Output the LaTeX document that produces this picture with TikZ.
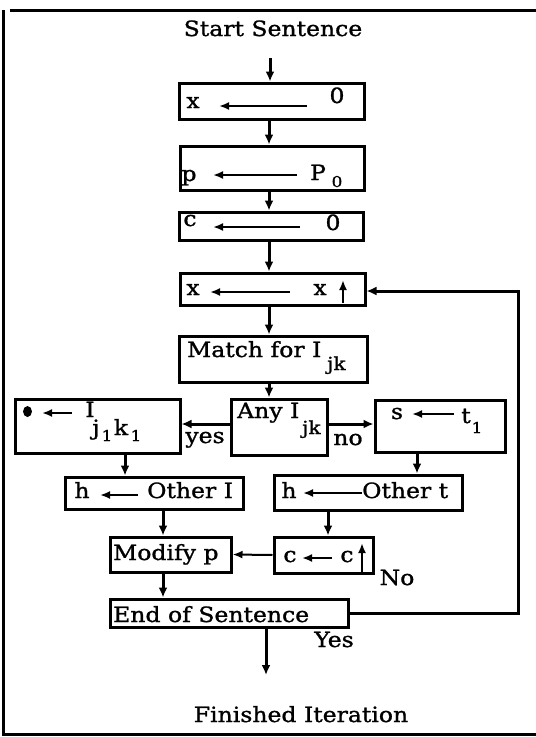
\documentclass[tikz,border=0pt]{standalone}
\usepackage{fontspec}
\newfontfamily\rf[FakeStretch=1.12,FakeBold=1.2]{DejaVu Serif}
\usetikzlibrary{arrows.meta}
\begin{document}
\begin{tikzpicture}[x=1pt,y=-1pt,
 box/.style={draw, line width=3pt, inner sep=0pt},
 con/.style={line width=3pt, -{Latex[length=10pt,width=9pt]}},
 thincon/.style={line width=2pt, -{Latex[length=10pt,width=8pt]}},
 inar/.style={line width=2.4pt, -{Latex[length=10pt,width=8pt]}},
 txt/.style={inner sep=0pt, font=\rf\fontsize{21}{24}\selectfont},
 subt/.style={inner sep=0pt, font=\rf\fontsize{18}{20}\selectfont},
 subn/.style={inner sep=0pt, font=\rf\fontsize{15}{17}\selectfont},
 frame/.style={line width=3pt}]
\useasboundingbox (0,0) rectangle (536,737);
% frame
\draw[frame] (10,10) -- (536,10);
\draw[frame] (3,10) -- (3,734) -- (536,734);
% helper coordinates
\coordinate (cx) at (269,0);
\coordinate (xa) at (125,0);
\coordinate (xb) at (163,0);
\coordinate (xc) at (417,0);
\coordinate (xd) at (328,0);
\coordinate (s0) at (270,58);
\coordinate (fb) at (518,291);
\coordinate (fe) at (266,675);
% boxes
\node[box, minimum width=185pt, minimum height=36pt] (b1) at (271.5,101) {};
\node[box, minimum width=184pt, minimum height=44pt] (b2) at (272,168) {};
\node[box, minimum width=184pt, minimum height=28pt] (b3) at (271,226) {};
\node[box, minimum width=185pt, minimum height=32pt] (b4) at (272.5,289) {};
\node[box, minimum width=188pt, minimum height=46pt] (b5) at (273,359) {};
\node[box, minimum width=96pt, minimum height=56pt] (b6) at (279,427) {};
\node[box, minimum width=165pt, minimum height=54pt] (b7) at (97.5,426) {};
\node[box, minimum width=130pt, minimum height=52pt] (b8) at (440,426) {};
\node[box, minimum width=178pt, minimum height=32pt] (b9) at (154,493) {};
\node[box, minimum width=188pt, minimum height=35pt] (b10) at (368,492.5) {};
\node[box, minimum width=121pt, minimum height=35pt] (b11) at (170.5,554.5) {};
\node[box, minimum width=99pt, minimum height=36pt] (b12) at (323.5,555) {};
\node[box, minimum width=238pt, minimum height=28pt] (b13) at (229,613) {};
\draw[line width=2pt] ([xshift=2.5pt]b7.north west) -- ([xshift=2.5pt]b7.south west);
% texts
\node[txt, anchor=base] (tstart) at (273,36) {Start Sentence};
\node[txt, anchor=base] (t1a) at (193,108) {x};
\node[txt, anchor=base] (t1b) at (337,103) {0};
\node[txt, anchor=base] (t2a) at (189,181) {p};
\node[txt, anchor=base] (t2b) at (318,180) {P};
\node[subn, anchor=base] (t2c) at (337,187) {0};
\node[txt, anchor=base] (t3a) at (190,226) {c};
\node[txt, anchor=base] (t3b) at (333,230) {0};
\node[txt, anchor=base] (t4a) at (193,295) {x};
\node[txt, anchor=base] (t4b) at (320,295) {x};
\node[txt, anchor=base west] (t5a) at (187,357) {Match for I};
\node[subt, anchor=base west] (t5b) at (327,370) {jk};
\node[txt, anchor=base west] (t6a) at (237,418) {Any I};
\node[subt, anchor=base west] (t6b) at (302,434) {jk};
\node[txt, anchor=base] (tyes) at (205,443) {yes};
\node[txt, anchor=base] (tno) at (348,445) {no};
\fill (27.5,411.5) ellipse [x radius=4.5pt, y radius=5.5pt];
\node[txt, anchor=base] (t7a) at (90,417) {I};
\node[txt, anchor=base] (t7b) at (96,435) {j};
\node[subn, anchor=base] (t7c) at (107,441) {1};
\node[txt, anchor=base] (t7d) at (121,435) {k};
\node[subn, anchor=base] (t7e) at (136,441) {1};
\node[txt, anchor=base] (t8a) at (397,419) {s};
\node[txt, anchor=base] (t8b) at (466,423) {t};
\node[subn, anchor=base] (t8c) at (477,433) {1};
\node[txt, anchor=base] (t9a) at (82,498) {h};
\node[txt, anchor=base west] (t9b) at (147,498) {Other I};
\node[txt, anchor=base] (t10a) at (289,498) {h};
\node[txt, anchor=base west] (t10b) at (362,498) {Other t};
\node[txt, anchor=base west] (t11) at (113,560) {Modify p};
\node[txt, anchor=base] (t12a) at (290,562) {c};
\node[txt, anchor=base] (t12b) at (347,562) {c};
\node[txt, anchor=base] (tNo) at (397,585) {No};
\node[txt, anchor=base west] (t13) at (113,622) {End of Sentence};
\node[txt, anchor=base] (tYes) at (334,647) {Yes};
\node[txt, anchor=base] (tfin) at (301,722) {Finished Iteration};
% inner arrows
\draw[inar] (307,106) -- (219,106);
\draw[inar] (297,175) -- (213,175);
\draw[inar] (300,227) -- (213,227);
\draw[inar] (290,292) -- (210,292);
\draw[inar] (343,303) -- (343,280);
\draw[inar] (72,413) -- (42,413);
\draw[inar] (454,414) -- (412,414);
\draw[inar] (138,495) -- (100,495);
\draw[inar] (362,493) -- (303,493);
\draw[inar] (332,558) -- (302,558);
\draw[inar] (362,573) -- (362,543);
% connectors
\draw[con] (s0) -- (s0 |- b1.north);
\draw[con] (b1.south -| cx) -- (b2.north -| cx);
\draw[con] (b2.south -| cx) -- (b3.north -| cx);
\draw[con] (b3.south -| cx) -- (b4.north -| cx);
\draw[con] (b4.south -| cx) -- (b5.north -| cx);
\draw[con] (b5.south -| cx) -- (b6.north -| cx);
\draw[con] ([yshift=3pt]b6.west) -- ([yshift=3pt]b6.west -| b7.east);
\draw[con] ([yshift=3pt]b6.east) -- ([yshift=3pt]b6.east -| b8.west);
\draw[con] (b7.south -| xa) -- (b9.north -| xa);
\draw[con] (b8.south -| xc) -- (b10.north -| xc);
\draw[con] (b9.south -| xb) -- (b11.north -| xb);
\draw[con] (b10.south -| xd) -- (b12.north -| xd);
\draw[thincon] (b12.west) -- (b11.east);
\draw[con] (b11.south -| xb) -- (b13.north -| xb);
\draw[con] (b13.east) -| (fb) -- (fb -| b4.east);
\draw[con] (fe |- b13.south) -- (fe);
\end{tikzpicture}
\end{document}
